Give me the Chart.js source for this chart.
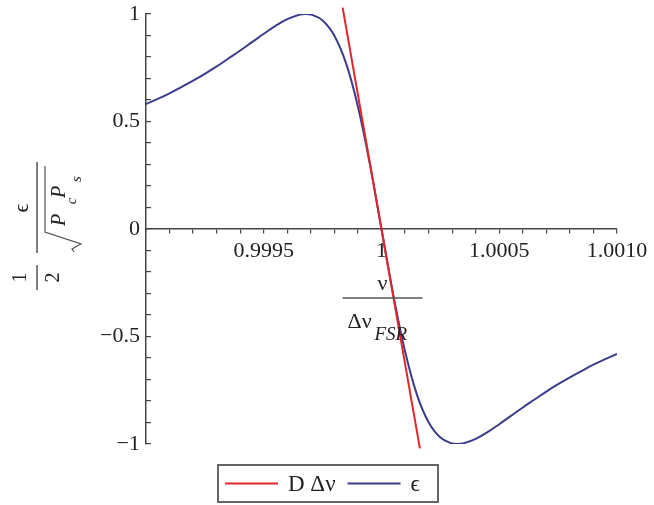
<!DOCTYPE html>
<html>
<head>
<meta charset="utf-8">
<script src="https://cdn.jsdelivr.net/npm/chart.js@4.4.1/dist/chart.umd.min.js"></script>
<style>
  html, body { margin: 0; padding: 0; background: #fff; }
  #wrap { width: 654px; height: 505px; }
</style>
</head>
<body>
<div id="wrap"><canvas id="plot"></canvas></div>
<script>
// nu / delta nu_FSR
const nuValues = [0.99900, 0.99905, 0.99910, 0.99915, 0.99920, 0.99925, 0.99930, 0.99935, 0.99940, 0.99945,
  0.99950, 0.99955, 0.99960, 0.99965, 0.99968, 0.99970, 0.99975, 0.99980, 0.99985, 0.99990,
  0.99995, 1.00000, 1.00005, 1.00010, 1.00015, 1.00020, 1.00025, 1.00030, 1.00032, 1.00035,
  1.00040, 1.00045, 1.00050, 1.00055, 1.00060, 1.00065, 1.00070, 1.00075, 1.00080, 1.00085,
  1.00090, 1.00095, 1.00100];
// epsilon / (2 sqrt(Pc Ps))
const epsValues = [0.581, 0.605, 0.631, 0.660, 0.690, 0.722, 0.756, 0.793, 0.830, 0.869,
  0.908, 0.945, 0.976, 0.996, 1.000, 0.998, 0.970, 0.899, 0.769, 0.569,
  0.305, 0, -0.305, -0.569, -0.769, -0.899, -0.970, -0.998, -1.000, -0.996,
  -0.976, -0.945, -0.908, -0.869, -0.830, -0.793, -0.756, -0.722, -0.690, -0.660,
  -0.631, -0.605, -0.581];
// D delta nu (tangent line)
const tangentNu = [0.999835, 1.000163];
const tangentValues = [1.03, -1.02];

const xTickValues = [0.9990, 0.9991, 0.9992, 0.9993, 0.9994, 0.9995, 0.9996, 0.9997, 0.9998, 0.9999,
  1.0000, 1.0001, 1.0002, 1.0003, 1.0004, 1.0005, 1.0006, 1.0007, 1.0008, 1.0009, 1.0010];
const xLabelValues = [0.9995, 1, 1.0005, 1.0010];
const xLabelTexts = ['0.9995', '1', '1.0005', '1.0010'];
const yTickValues = [-1, -0.9, -0.8, -0.7, -0.6, -0.5, -0.4, -0.3, -0.2, -0.1, 0,
  0.1, 0.2, 0.3, 0.4, 0.5, 0.6, 0.7, 0.8, 0.9, 1];
const yLabelValues = [-1, -0.5, 0, 0.5, 1];
const yLabelTexts = ['\u22121', '\u22120.5', '0', '0.5', '1'];

const SERIF = '"Liberation Serif", "DejaVu Serif", serif';
const AXIS_COLOR = '#444';

function labelFor(value, vals, texts) {
    for (let i = 0; i < vals.length; i++) {
        if (Math.abs(vals[i] - value) < 1e-9) return texts[i];
    }
    return '';
}

function toPoints(xs, ys) {
    return xs.map((x, i) => ({ x: x, y: ys[i] }));
}

// axis titles drawn as fractions, like the original
const axisTitles = {
    id: 'axisTitles',
    afterDraw(chart) {
        const ctx = chart.ctx;
        const area = chart.chartArea;
        ctx.save();
        ctx.fillStyle = '#222';
        ctx.strokeStyle = '#555';
        ctx.lineWidth = 1.5;
        ctx.textAlign = 'center';
        ctx.textBaseline = 'middle';

        // x title: nu / (delta nu_FSR)
        const cx = (area.left + area.right) / 2 + 1;
        ctx.font = '22px ' + SERIF;
        ctx.fillText('\u03bd', cx, 284);
        ctx.beginPath();
        ctx.moveTo(cx - 40, 298);
        ctx.lineTo(cx + 40, 298);
        ctx.stroke();
        ctx.textAlign = 'left';
        ctx.fillText('\u0394\u03bd', cx - 35, 322);
        ctx.font = 'italic 19px ' + SERIF;
        ctx.fillText('FSR', cx - 8, 335);

        // y title: 1/2 * eps / sqrt(Pc Ps), rotated
        ctx.translate(37, 228);
        ctx.rotate(-Math.PI / 2);
        ctx.textAlign = 'center';
        ctx.beginPath();
        ctx.moveTo(-62, 0); ctx.lineTo(-37, 0);
        ctx.moveTo(-25, 0); ctx.lineTo(66, 0);
        ctx.stroke();
        ctx.font = '20px ' + SERIF;
        ctx.fillText('1', -49.5, -16);
        ctx.fillText('2', -49.5, 17);
        ctx.font = '22px ' + SERIF;
        ctx.fillText('\u03f5', 20, -15);
        ctx.lineWidth = 1.2;
        ctx.beginPath();
        ctx.moveTo(-24, 37);
        ctx.lineTo(-21, 35);
        ctx.lineTo(-16, 44);
        ctx.lineTo(-4, 8);
        ctx.lineTo(62, 8);
        ctx.stroke();
        ctx.font = 'italic 20px ' + SERIF;
        ctx.fillText('P', 8, 23);
        ctx.fillText('P', 36, 23);
        ctx.font = 'italic 15px ' + SERIF;
        ctx.fillText('c', 27, 35);
        ctx.fillText('s', 49, 40);
        ctx.restore();
    }
};

// framed legend under the plot
const boxedLegend = {
    id: 'boxedLegend',
    afterDraw(chart) {
        const ctx = chart.ctx;
        ctx.save();
        ctx.strokeStyle = '#666';
        ctx.lineWidth = 2;
        ctx.strokeRect(218, 465, 220, 37);
        ctx.font = '23px ' + SERIF;
        ctx.textBaseline = 'middle';
        ctx.textAlign = 'left';
        let x = 225;
        const y = 483.5;
        chart.data.datasets.forEach(ds => {
            ctx.strokeStyle = ds.borderColor;
            ctx.lineWidth = 2;
            ctx.beginPath();
            ctx.moveTo(x, y);
            ctx.lineTo(x + 53, y);
            ctx.stroke();
            x += 63;
            ctx.fillStyle = '#222';
            ctx.fillText(ds.label, x, y + 1);
            x += ctx.measureText(ds.label).width + 12;
        });
        ctx.restore();
    }
};

const ctx = document.getElementById('plot').getContext('2d');
new Chart(ctx, {
    type: 'line',
    data: {
        datasets: [
            {
                label: 'D \u0394\u03bd',
                data: toPoints(tangentNu, tangentValues),
                borderColor: '#e0262c',
                borderWidth: 2,
                pointRadius: 0,
                clip: false
            },
            {
                label: '\u03f5',
                data: toPoints(nuValues, epsValues),
                borderColor: '#3c3c8c',
                borderWidth: 2,
                pointRadius: 0,
                tension: 0.4
            }
        ]
    },
    options: {
        responsive: true,
        maintainAspectRatio: false,
        animation: false,
        layout: { padding: { top: 14, right: 37, left: 0, bottom: 61 } },
        plugins: {
            legend: { display: false },
            tooltip: { enabled: false }
        },
        scales: {
            x: {
                type: 'linear',
                position: { y: 0 },
                min: 0.999,
                max: 1.001,
                afterBuildTicks: (scale) => { scale.ticks = xTickValues.map(v => ({ value: v })); },
                afterFit: (scale) => { scale.height = 0; },
                border: { display: true, color: AXIS_COLOR, width: 1.5 },
                grid: { display: true, drawOnChartArea: false, drawTicks: true, tickLength: 4, tickColor: AXIS_COLOR, lineWidth: 1.2 },
                ticks: {
                    autoSkip: false,
                    maxRotation: 0,
                    padding: 5,
                    color: '#222',
                    font: { family: SERIF, size: 22 },
                    callback: (value) => labelFor(value, xLabelValues, xLabelTexts)
                }
            },
            y: {
                type: 'linear',
                position: 'left',
                min: -1,
                max: 1,
                afterBuildTicks: (scale) => { scale.ticks = yTickValues.map(v => ({ value: v })); },
                afterFit: (scale) => {
                    scale.width = 146;
                    // let the layout padding alone decide the plot top/bottom
                    scale.paddingTop = 0;
                    scale.paddingBottom = 0;
                },
                border: { display: true, color: AXIS_COLOR, width: 1.5 },
                grid: { display: true, drawOnChartArea: false, drawTicks: true, tickLength: -5, tickColor: AXIS_COLOR, lineWidth: 1.2 },
                ticks: {
                    autoSkip: false,
                    padding: 11,
                    color: '#222',
                    font: { family: SERIF, size: 22 },
                    callback: (value) => labelFor(value, yLabelValues, yLabelTexts)
                }
            }
        }
    },
    plugins: [axisTitles, boxedLegend]
});
</script>
</body>
</html>
